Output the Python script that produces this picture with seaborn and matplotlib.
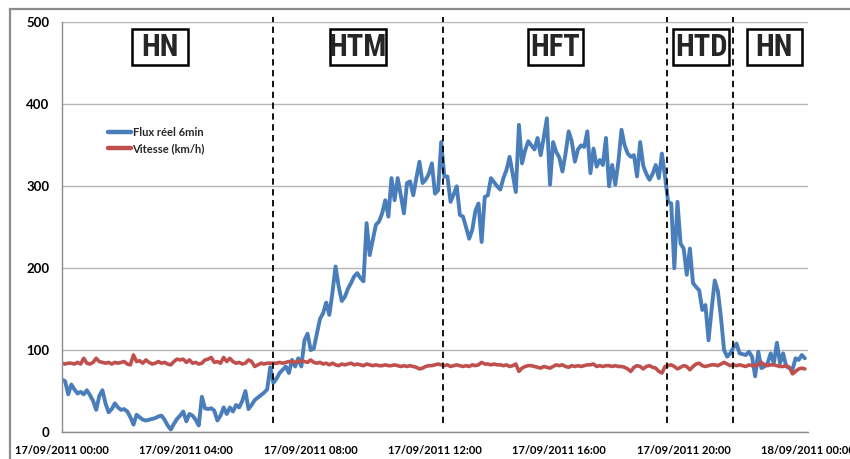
import numpy as np
import pandas as pd
import matplotlib
matplotlib.use('Agg')
import matplotlib.pyplot as plt
from matplotlib import font_manager
from matplotlib.patches import Rectangle
import seaborn as sns

# ── Data: one value every 6 minutes, 17/09/2011 00:00 -> 23:54 ───────────────
flux = [
    64, 62, 46, 58, 52, 47, 49, 46, 51, 45,
    38, 27, 44, 51, 35, 24, 28, 35, 30, 27,
    28, 25, 18, 9, 21, 18, 15, 14, 15, 16,
    17, 19, 20, 15, 8, 3, 10, 16, 20, 25,
    13, 22, 20, 15, 8, 43, 29, 28, 29, 26,
    14, 20, 30, 22, 30, 25, 33, 30, 38, 50,
    28, 33, 39, 42, 45, 48, 52, 79, 60, 65,
    72, 76, 80, 72, 88, 80, 90, 80, 112, 120,
    100, 102, 120, 138, 145, 158, 143, 170, 202, 178,
    160, 165, 175, 182, 190, 194, 188, 184, 255, 216,
    235, 253, 257, 267, 283, 263, 310, 283, 310, 289,
    267, 304, 306, 289, 310, 330, 304, 308, 315, 328,
    291, 295, 354, 312, 312, 281, 290, 300, 265, 263,
    250, 236, 247, 270, 279, 232, 287, 289, 310, 305,
    300, 296, 310, 320, 336, 315, 293, 375, 328, 344,
    355, 350, 345, 359, 338, 360, 383, 302, 354, 342,
    335, 318, 340, 367, 355, 330, 345, 350, 348, 367,
    316, 346, 324, 332, 326, 359, 300, 326, 302, 330,
    369, 350, 340, 336, 338, 312, 354, 325, 315, 308,
    315, 326, 310, 340, 312, 281, 279, 200, 281, 230,
    224, 192, 224, 182, 177, 173, 149, 155, 112, 150,
    185, 172, 140, 100, 92, 96, 103, 108, 96, 95,
    94, 98, 92, 68, 98, 78, 80, 84, 96, 84,
    109, 84, 96, 80, 78, 76, 90, 88, 94, 90,
]

vitesse = [
    84, 83, 84, 84, 83, 85, 83, 90, 84, 83,
    85, 90, 86, 85, 84, 85, 83, 85, 84, 85,
    86, 83, 82, 94, 86, 87, 84, 88, 85, 83,
    84, 86, 84, 85, 83, 82, 86, 89, 88, 89,
    85, 88, 84, 85, 83, 84, 88, 89, 91, 85,
    86, 84, 91, 86, 90, 86, 84, 85, 83, 84,
    88, 86, 80, 82, 84, 83, 84, 84, 84, 84,
    85, 84, 85, 86, 86, 85, 86, 87, 86, 85,
    88, 85, 84, 85, 83, 84, 82, 84, 82, 81,
    83, 82, 83, 84, 82, 83, 82, 81, 83, 82,
    81, 82, 81, 81, 82, 81, 81, 82, 81, 80,
    81, 80, 81, 80, 79, 77, 78, 80, 81, 81,
    82, 83, 82, 81, 82, 80, 81, 82, 81, 80,
    81, 80, 82, 81, 82, 85, 83, 83, 82, 83,
    82, 82, 81, 82, 80, 81, 83, 74, 78, 80,
    81, 81, 80, 79, 78, 80, 79, 78, 80, 82,
    81, 82, 80, 79, 81, 80, 81, 80, 81, 82,
    82, 83, 80, 81, 80, 81, 81, 80, 81, 80,
    80, 79, 77, 74, 79, 81, 80, 77, 80, 81,
    79, 78, 74, 72, 80, 81, 82, 80, 77, 79,
    81, 80, 76, 80, 83, 84, 81, 80, 81, 82,
    82, 81, 83, 85, 83, 81, 82, 81, 82, 81,
    80, 82, 81, 81, 82, 85, 82, 81, 82, 82,
    81, 80, 80, 81, 79, 71, 74, 77, 78, 77,
]

tick_hours = [0, 4, 8, 12, 16, 20, 24]
tick_labels = ['17/09/2011 00:00', '17/09/2011 04:00', '17/09/2011 08:00',
               '17/09/2011 12:00', '17/09/2011 16:00', '17/09/2011 20:00',
               '18/09/2011 00:00']

periods = ['HN', 'HTM', 'HFT', 'HTD', 'HN']
period_centres = [3.15, 9.52, 15.88, 20.56, 22.92]   # hours
period_bounds = [6.8, 12.25, 19.47, 21.6]             # hours

BLUE = '#4a7ebb'
RED = '#c0504d'

df = pd.DataFrame({'heure': np.arange(len(flux)) * 0.1,   # 6 min steps
                   'flux': flux, 'vitesse': vitesse})

sns.set_theme(style='white')
plt.rcParams['font.family'] = 'Lato'

names = {f.name for f in font_manager.fontManager.ttflist}
box_font = next((n for n in ['Liberation Sans Narrow', 'DejaVu Sans Condensed',
                             'Roboto Condensed', 'Liberation Sans'] if n in names),
                'DejaVu Sans')
box_size = 22 if 'Narrow' in box_font or 'Condensed' in box_font else 17

fig = plt.figure(figsize=(8.5, 4.59), dpi=100)
ax = fig.add_axes([62 / 850, 1 - 432 / 459, 746 / 850, 409.5 / 459])

# outer chart frame
fig.patches.append(Rectangle((10 / 850, -0.1), 1.2, 1.1 - 9 / 459,
                             transform=fig.transFigure, fill=False,
                             edgecolor='#8c8c8c', linewidth=1.6))

sns.lineplot(data=df, x='heure', y='flux', ax=ax, color=BLUE, linewidth=2.8,
             label='Flux réel 6min', solid_joinstyle='round')
sns.lineplot(data=df, x='heure', y='vitesse', ax=ax, color=RED, linewidth=2.6,
             label='Vitesse (km/h)', solid_joinstyle='round')

ax.set_xlim(0, 24)
ax.set_ylim(0, 500)
ax.set_yticks(range(0, 501, 100))
ax.set_xticks(tick_hours)
ax.set_xticklabels(tick_labels, fontsize=8, fontweight='bold')
ax.set_yticklabels([str(v) for v in range(0, 501, 100)], fontsize=9.5,
                   fontweight='bold')
ax.set_xlabel('')
ax.set_ylabel('')
ax.grid(axis='y', color='#b5b5b5', linewidth=1)
ax.grid(axis='x', visible=False)
for s in ['top', 'right']:
    ax.spines[s].set_visible(False)
for s in ['left', 'bottom']:
    ax.spines[s].set_color('#8c8c8c')
    ax.spines[s].set_linewidth(1)
ax.tick_params(axis='both', direction='out', length=4, width=1,
               color='#8c8c8c', labelcolor='black')
ax.tick_params(axis='x', pad=5)
ax.tick_params(axis='y', pad=5)

# period separators
for h in period_bounds:
    ax.axvline(h, ymin=0.022, ymax=1.014, color='black', linestyle=(0, (3.5, 2.5)),
               linewidth=1.3, clip_on=False, zorder=5)

# period labels in boxes
for lab, c in zip(periods, period_centres):
    ax.add_patch(Rectangle((c - 0.89, 447.5), 1.78, 45, facecolor='white',
                           edgecolor='black', linewidth=1.8, zorder=6))
    ax.text(c, 470, lab, ha='center', va='center', fontsize=box_size,
            fontweight='bold', family=box_font, zorder=7)

leg = ax.legend(loc='upper left', bbox_to_anchor=(0.061, 0.745), frameon=False,
                fontsize=8, handlelength=2.1, handletextpad=0.15, borderpad=0,
                borderaxespad=0, labelspacing=0.45, prop={'weight': 'bold', 'size': 8})
for line in leg.get_lines():
    line.set_linewidth(3.2)

fig.savefig('out.png', dpi=100, facecolor='white')
